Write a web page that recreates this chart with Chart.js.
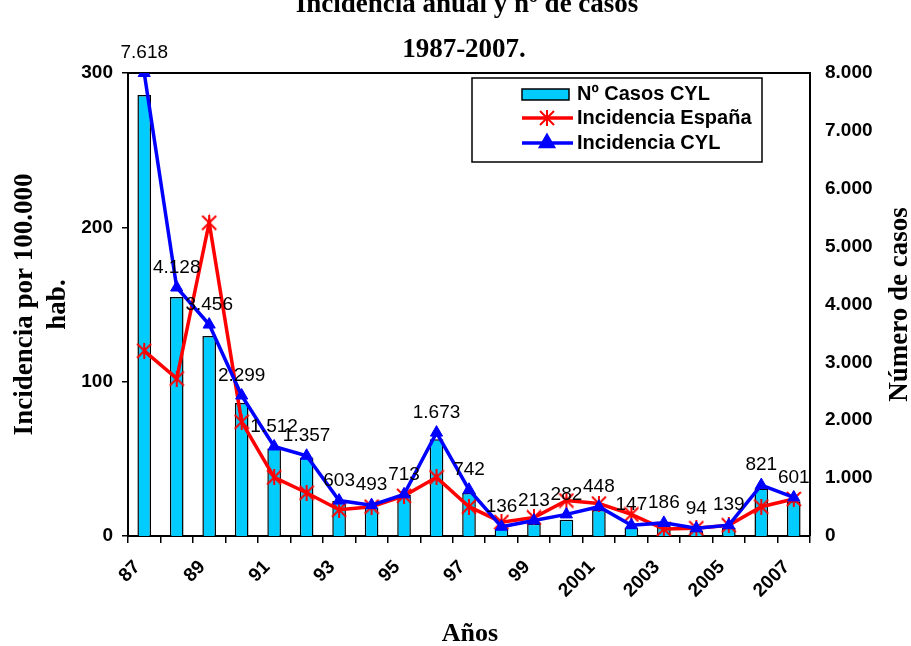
<!DOCTYPE html>
<html>
<head>
<meta charset="utf-8">
<script src="https://cdn.jsdelivr.net/npm/chart.js"></script>
<style>
  html, body { margin: 0; padding: 0; background: #ffffff; }
  .wrap { position: relative; width: 911px; height: 646px; }
</style>
</head>
<body>
<div class="wrap"><canvas id="chart" width="911" height="646"></canvas></div>
<script>
// data
const years = ['87', '88', '89', '90', '91', '92', '93', '94', '95', '96', '97', '98', '99',
  '2000', '2001', '2002', '2003', '2004', '2005', '2006', '2007'];
const casosCYL = [7618, 4128, 3456, 2299, 1512, 1357, 603, 493, 713, 1673, 742, 136, 213,
  282, 448, 147, 186, 94, 139, 821, 601];
const incidenciaEspana = [120, 102, 203, 74, 38, 28, 17, 19, 26, 38, 19, 9, 12,
  23, 21, 14, 4.5, 5, 7, 19, 24];
const incidenciaCYL = [300, 161, 137, 91, 58, 52, 23, 20, 27, 67, 30, 6, 10,
  14, 19, 7, 8.5, 5, 7, 33, 25];
const leftTicks = [0, 100, 200, 300];
const rightTicks = [0, 1000, 2000, 3000, 4000, 5000, 6000, 7000, 8000];

const SANS = '"Liberation Sans", Arial, sans-serif';
const SERIF = '"Liberation Serif", "Times New Roman", serif';

function miles(v) {
  return String(v).replace(/\B(?=(\d{3})+(?!\d))/g, '.');
}

// asterisk marker like the Excel one (X plus a vertical bar)
function asterisk(color, size) {
  const c = document.createElement('canvas');
  c.width = size; c.height = size;
  const g = c.getContext('2d');
  const m = size / 2, r = size / 2 - 1;
  g.strokeStyle = color;
  g.lineWidth = 2;
  g.beginPath();
  g.moveTo(m - r, m - r); g.lineTo(m + r, m + r);
  g.moveTo(m + r, m - r); g.lineTo(m - r, m + r);
  g.moveTo(m, m - r - 1); g.lineTo(m, m + r + 1);
  g.stroke();
  return c;
}
const redStar = asterisk('#FF0000', 16);

// title, partly cut at the top like the original, plus x and right axis titles
const texts = {
  id: 'texts',
  afterDraw(chart) {
    const a = chart.chartArea;
    const ctx = chart.ctx;
    ctx.save();
    ctx.fillStyle = '#000';
    ctx.font = 'bold 27px ' + SERIF;
    ctx.textAlign = 'center';
    ctx.textBaseline = 'alphabetic';
    ctx.fillText('Incidencia anual y nº de casos', 467, 12);
    ctx.fillText('1987-2007.', 464, 57);

    ctx.textBaseline = 'middle';
    ctx.font = 'bold 26px ' + SERIF;
    ctx.fillText('Años', 470, 634);

    ctx.font = 'bold 27px ' + SERIF;
    ctx.translate(900, (a.top + a.bottom) / 2);
    ctx.rotate(-Math.PI / 2);
    ctx.fillText('Número de casos', 0, 0);
    ctx.restore();
  }
};

// box round the plot area (top and right edges)
const frame = {
  id: 'frame',
  beforeDatasetsDraw(chart) {
    const a = chart.chartArea;
    const ctx = chart.ctx;
    ctx.save();
    ctx.strokeStyle = '#000';
    ctx.lineWidth = 2;
    ctx.beginPath();
    ctx.moveTo(a.left, a.top);
    ctx.lineTo(a.right, a.top);
    ctx.lineTo(a.right, a.bottom);
    ctx.stroke();
    ctx.restore();
  }
};

// case counts written above the CYL line points
const caseLabels = {
  id: 'caseLabels',
  afterDatasetsDraw(chart) {
    const meta = chart.getDatasetMeta(2);
    const ctx = chart.ctx;
    ctx.save();
    ctx.fillStyle = '#000';
    ctx.font = '19px ' + SANS;
    ctx.textAlign = 'center';
    ctx.textBaseline = 'middle';
    meta.data.forEach((pt, i) => {
      ctx.fillText(miles(casosCYL[i]), pt.x, pt.y - 20);
    });
    ctx.restore();
  }
};

const legendBox = {
  id: 'legendBox',
  afterDraw(chart) {
    const a = chart.chartArea;
    const ctx = chart.ctx;
    const w = 290, h = 84;
    const x = a.right - 48 - w, y = a.top + 5;
    ctx.save();
    ctx.fillStyle = '#fff';
    ctx.fillRect(x, y, w, h);
    ctx.strokeStyle = '#000';
    ctx.lineWidth = 1.5;
    ctx.strokeRect(x, y, w, h);

    ctx.font = 'bold 20px ' + SANS;
    ctx.textBaseline = 'middle';
    const sx = x + 50, tx = x + 105;
    // bars
    let ry = y + 16;
    ctx.fillStyle = '#00CCFF';
    ctx.fillRect(sx, ry - 5, 47, 11);
    ctx.strokeStyle = '#000';
    ctx.lineWidth = 1.5;
    ctx.strokeRect(sx, ry - 5, 47, 11);
    ctx.fillStyle = '#000';
    ctx.fillText('Nº Casos CYL', tx, ry);
    // lines
    const rows = [
      { y: y + 40, color: '#FF0000', style: redStar, text: 'Incidencia España' },
      { y: y + 65, color: '#0000FF', style: 'triangle', text: 'Incidencia CYL' }
    ];
    rows.forEach(r => {
      ctx.strokeStyle = r.color;
      ctx.lineWidth = 3.5;
      ctx.beginPath();
      ctx.moveTo(sx, r.y);
      ctx.lineTo(sx + 51, r.y);
      ctx.stroke();
      ctx.fillStyle = r.color;
      Chart.helpers.drawPoint(ctx, { pointStyle: r.style, radius: 7, borderWidth: 1 }, sx + 25, r.y);
      ctx.fillStyle = '#000';
      ctx.fillText(r.text, tx, r.y);
    });
    ctx.restore();
  }
};

new Chart(document.getElementById('chart'), {
  data: {
    labels: years,
    datasets: [
      {
        type: 'bar',
        label: 'Nº Casos CYL',
        data: casosCYL,
        yAxisID: 'y1',
        backgroundColor: '#00CCFF',
        borderColor: '#000',
        borderWidth: 1.5,
        barPercentage: 0.42,
        categoryPercentage: 1,
        order: 3
      },
      {
        type: 'line',
        label: 'Incidencia España',
        data: incidenciaEspana,
        yAxisID: 'y',
        borderColor: '#FF0000',
        backgroundColor: '#FF0000',
        borderWidth: 3.5,
        pointStyle: redStar,
        pointRadius: 8,
        tension: 0,
        order: 2
      },
      {
        type: 'line',
        label: 'Incidencia CYL',
        data: incidenciaCYL,
        yAxisID: 'y',
        borderColor: '#0000FF',
        backgroundColor: '#0000FF',
        borderWidth: 3.5,
        pointStyle: 'triangle',
        pointRadius: 7,
        pointBorderWidth: 1,
        tension: 0,
        order: 1
      }
    ]
  },
  options: {
    responsive: false,
    animation: false,
    layout: { padding: { top: 73, left: 0, right: 0, bottom: 0 } },
    plugins: {
      legend: { display: false },
      tooltip: { enabled: false },
      title: { display: false }
    },
    scales: {
      x: {
        offset: true,
        grid: {
          display: true,
          offset: true,
          drawOnChartArea: false,
          drawTicks: true,
          tickLength: 7,
          color: '#000',
          lineWidth: 1.5
        },
        border: { display: true, color: '#000', width: 2 },
        ticks: {
          autoSkip: false,
          maxRotation: 45,
          minRotation: 45,
          padding: 13,
          labelOffset: -7,
          color: '#000',
          font: { family: SANS, size: 19, weight: 'bold' },
          callback: (v, i) => (i % 2 === 0 ? years[i] : '')
        },
        afterFit(scale) { scale.height = 110; }
      },
      y: {
        position: 'left',
        min: 0,
        max: 300,
        afterBuildTicks(scale) { scale.ticks = leftTicks.map(v => ({ value: v })); },
        grid: {
          display: true,
          drawOnChartArea: false,
          drawTicks: true,
          tickLength: 6,
          color: '#000',
          lineWidth: 1.5
        },
        border: { display: true, color: '#000', width: 2 },
        ticks: {
          color: '#000',
          padding: 9,
          font: { family: SANS, size: 19, weight: 'bold' }
        },
        title: {
          display: true,
          text: ['Incidencia por 100.000', 'hab.'],
          color: '#000',
          font: { family: SERIF, size: 27, weight: 'bold', lineHeight: 1.2 },
          padding: { top: 9, bottom: 0 }
        },
        afterFit(scale) { scale.width = 128; }
      },
      y1: {
        position: 'right',
        min: 0,
        max: 8000,
        afterBuildTicks(scale) { scale.ticks = rightTicks.map(v => ({ value: v })); },
        grid: { display: false, drawOnChartArea: false },
        border: { display: false },
        ticks: {
          color: '#000',
          padding: 7,
          font: { family: SANS, size: 19, weight: 'bold' },
          callback: v => miles(v)
        },
        afterFit(scale) { scale.width = 101; }
      }
    }
  },
  plugins: [frame, caseLabels, legendBox, texts]
});
</script>
</body>
</html>
